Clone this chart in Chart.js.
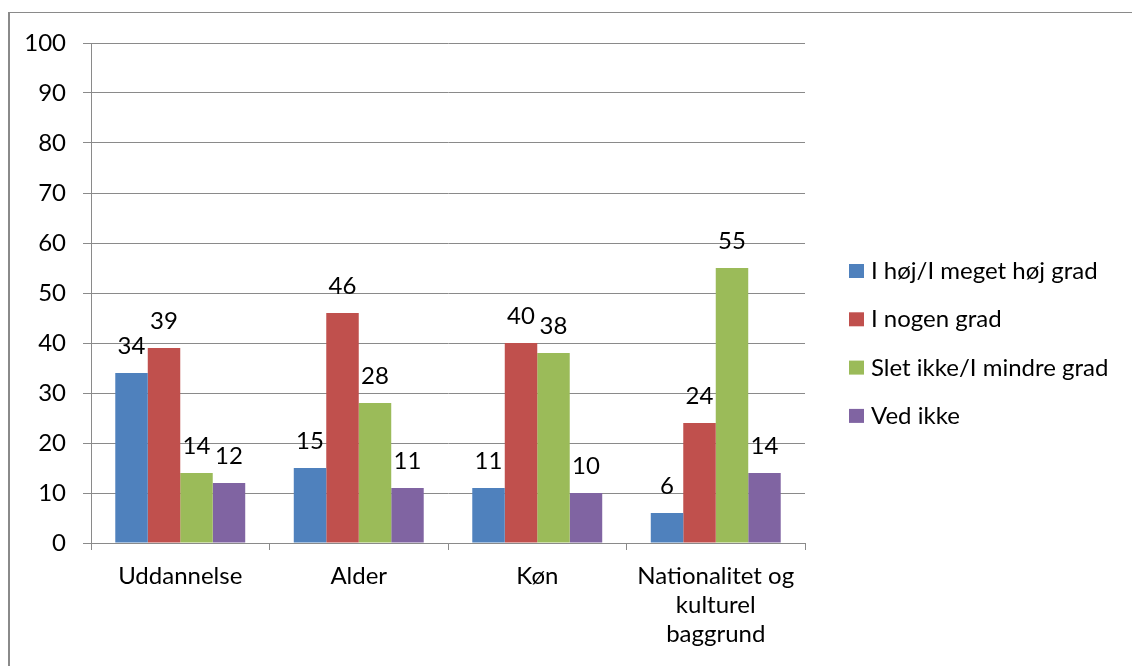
<!DOCTYPE html>
<html>
<head>
<meta charset="utf-8">
<script src="https://cdn.jsdelivr.net/npm/chart.js@4.4.1/dist/chart.umd.min.js"></script>
<style>
    html, body { margin: 0; padding: 0; background: #fff; overflow: hidden; }
    #wrap { position: relative; width: 1132px; height: 666px; }
    #frame { position: absolute; left: 8px; top: 12px; width: 1200px; height: 700px;
             border-left: 2px solid #8a8a8a; border-top: 1px solid #8a8a8a; }
</style>
</head>
<body>
<div id="wrap">
    <canvas id="chart1" width="1132" height="666"></canvas>
    <div id="frame"></div>
</div>
<script>
var categories = ['Uddannelse', 'Alder', 'Køn', ['Nationalitet og', 'kulturel', 'baggrund']];
var seriesNames = ['I høj/I meget høj grad', 'I nogen grad', 'Slet ikke/I mindre grad', 'Ved ikke'];
var hoejGrad = [34, 15, 11, 6];
var nogenGrad = [39, 46, 40, 24];
var sletIkke = [14, 28, 38, 55];
var vedIkke = [12, 11, 10, 14];
var yTicks = [0, 10, 20, 30, 40, 50, 60, 70, 80, 90, 100];

var colors = ['#4f81bd', '#c0504d', '#9bbb59', '#8064a2'];
var fontFamily = 'Lato, "Open Sans", sans-serif';
var fontSize = 24;
var gridColor = '#8a8a8a';

// value labels above each bar
var barLabels = {
    id: 'barLabels',
    afterDatasetsDraw: function (chart) {
        var ctx = chart.ctx;
        ctx.save();
        ctx.font = fontSize + 'px ' + fontFamily;
        ctx.fillStyle = '#000';
        ctx.textAlign = 'center';
        ctx.textBaseline = 'alphabetic';
        chart.data.datasets.forEach(function (ds, i) {
            chart.getDatasetMeta(i).data.forEach(function (bar, j) {
                ctx.fillText(ds.data[j], bar.x, bar.y - 19);
            });
        });
        ctx.restore();
    }
};

// legend on the right, drawn by hand
var sideLegend = {
    id: 'sideLegend',
    afterDraw: function (chart) {
        var ctx = chart.ctx;
        ctx.save();
        ctx.font = fontSize + 'px ' + fontFamily;
        ctx.textAlign = 'left';
        ctx.textBaseline = 'alphabetic';
        chart.data.datasets.forEach(function (ds, i) {
            var cy = 271 + i * 48.3;
            ctx.fillStyle = ds.backgroundColor;
            ctx.fillRect(849, cy - 7, 15, 14);
            ctx.fillStyle = '#000';
            ctx.fillText(ds.label, 871, cy + 8);
        });
        ctx.restore();
    }
};

var series = [hoejGrad, nogenGrad, sletIkke, vedIkke];

var ctxChart1 = document.getElementById('chart1').getContext('2d');
var chart1 = new Chart(ctxChart1, {
    type: 'bar',
    plugins: [barLabels, sideLegend],
    data: {
        labels: categories,
        datasets: series.map(function (vals, i) {
            return {
                label: seriesNames[i],
                data: vals,
                backgroundColor: colors[i],
                borderWidth: 0,
                categoryPercentage: 0.728,
                barPercentage: 1
            };
        })
    },
    options: {
        responsive: false,
        animation: false,
        events: [],
        layout: {
            padding: { left: 0, top: 43, right: 327, bottom: 0 }
        },
        plugins: {
            legend: { display: false },
            title: { display: false },
            tooltip: { enabled: false }
        },
        scales: {
            x: {
                grid: {
                    display: true,
                    drawOnChartArea: false,
                    drawTicks: true,
                    tickLength: 7,
                    color: gridColor
                },
                border: { display: true, color: gridColor },
                ticks: {
                    color: '#000',
                    padding: 12,
                    maxRotation: 0,
                    autoSkip: false,
                    font: { family: fontFamily, size: fontSize, lineHeight: 1.21 }
                },
                afterFit: function (scale) {
                    scale.height = 123;
                }
            },
            y: {
                min: 0,
                max: 100,
                afterBuildTicks: function (scale) {
                    scale.ticks = yTicks.map(function (v) { return { value: v }; });
                },
                grid: {
                    color: gridColor,
                    tickLength: 8
                },
                border: { display: true, color: gridColor },
                ticks: {
                    color: '#000',
                    padding: 17,
                    font: { family: fontFamily, size: fontSize }
                },
                afterFit: function (scale) {
                    scale.width = 91;
                }
            }
        }
    }
});
</script>
</body>
</html>
